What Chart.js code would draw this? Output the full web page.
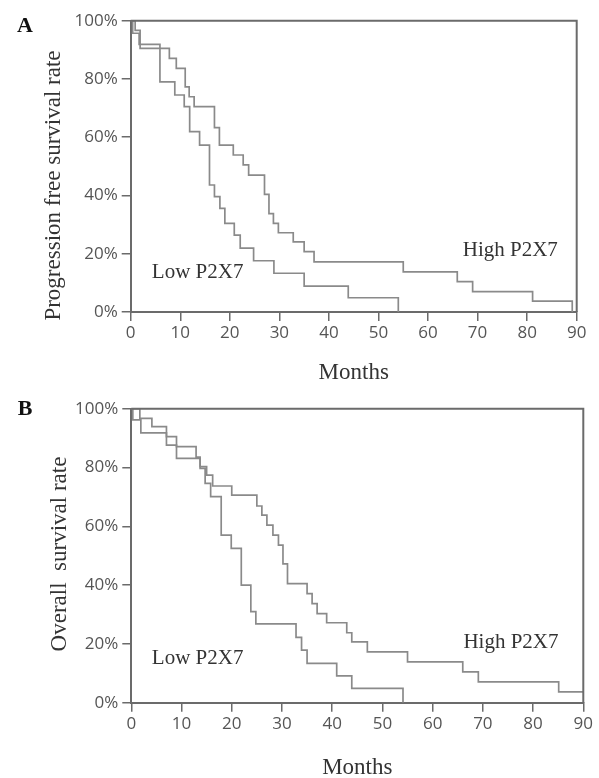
<!DOCTYPE html>
<html>
<head>
<meta charset="utf-8">
<script src="https://cdn.jsdelivr.net/npm/chart.js@4.4.1/dist/chart.umd.min.js"></script>
<style>
  html, body { margin: 0; padding: 0; background: #fff; overflow: hidden; }
  #wrap { position: relative; width: 599px; height: 778px; }
  canvas { position: absolute; left: 0; }
  #chartA { top: 0; }
  #chartB { top: 390px; }
</style>
</head>
<body>
<div id="wrap">
  <canvas id="chartA" width="599" height="390"></canvas>
  <canvas id="chartB" width="599" height="392"></canvas>
</div>
<script>
// months / survival (%)
const monthTicks = [0, 10, 20, 30, 40, 50, 60, 70, 80, 90];
const rateTicks = [0, 20, 40, 60, 80, 100];

// A: progression free survival
const pfsHighMonths = [0, 0.9, 1.9, 7.8, 9.2, 11.0, 11.8, 12.8, 16.9, 17.9, 20.7, 22.7, 23.8, 27.0, 27.9, 28.8, 29.8, 32.8, 35.0, 37.0, 55.0, 65.9, 69.0, 81.1, 89.1];
const pfsHighRate = [100, 96.7, 90.5, 87.1, 83.6, 77.3, 73.9, 70.5, 63.3, 57.3, 53.9, 50.5, 47.0, 40.4, 33.8, 30.4, 27.2, 24.1, 20.7, 17.2, 13.8, 10.4, 7.0, 3.7, 0];
const pfsLowMonths = [0, 0.4, 1.7, 5.9, 8.9, 10.8, 11.9, 13.9, 15.9, 16.9, 18.0, 19.0, 20.9, 22.1, 24.8, 28.9, 35.0, 43.9, 54.0];
const pfsLowRate = [100, 95.7, 91.9, 79.0, 74.5, 70.5, 61.9, 57.3, 43.6, 39.6, 35.6, 30.4, 26.4, 21.9, 17.6, 13.3, 8.9, 4.9, 0];

// B: overall survival
const osHighMonths = [0, 1.7, 4.1, 7.0, 9.0, 12.9, 13.7, 15.0, 16.2, 20.0, 25.0, 26.0, 27.0, 28.2, 29.3, 30.2, 31.1, 35.0, 36.0, 37.0, 38.9, 42.9, 43.9, 47.0, 55.0, 66.0, 69.1, 85.1, 90];
const osHighRate = [100, 96.7, 93.9, 90.5, 87.1, 83.5, 80.3, 77.4, 73.7, 70.6, 66.9, 63.8, 60.4, 57.0, 53.6, 47.2, 40.5, 37.1, 33.7, 30.3, 27.2, 23.8, 20.7, 17.3, 13.9, 10.5, 7.1, 3.7, 3.7];
const osLowMonths = [0, 0.3, 1.9, 7.0, 9.0, 13.7, 14.7, 15.8, 17.9, 19.9, 21.9, 23.8, 24.8, 32.8, 33.9, 35.0, 40.9, 43.9, 54.1];
const osLowRate = [100, 96.2, 91.8, 87.6, 83.1, 79.7, 74.6, 70.1, 57.0, 52.5, 40.0, 31.0, 26.8, 22.2, 17.9, 13.4, 9.1, 4.9, 0];

const lineGrey = "#8a8a8a";
const axisGrey = "#6b6b6b";

function toPoints(months, rate) {
  return months.map((m, i) => ({ x: m, y: rate[i] }));
}

// frame on top/right, panel letter, rotated y title and the group names
const panelText = {
  id: "panelText",
  afterDraw(chart, args, opts) {
    const { ctx, chartArea: a, scales } = chart;
    ctx.save();
    ctx.strokeStyle = axisGrey;
    ctx.lineWidth = 2;
    ctx.beginPath();
    ctx.moveTo(a.left, a.top);
    ctx.lineTo(a.right, a.top);
    ctx.lineTo(a.right, a.bottom);
    ctx.stroke();

    ctx.fillStyle = "#111";
    ctx.font = 'bold 22px "Liberation Serif"';
    ctx.textAlign = "center";
    ctx.textBaseline = "alphabetic";
    ctx.fillText(opts.letter, 25, opts.letterY);

    ctx.save();
    ctx.translate(opts.titleX, opts.titleY);
    ctx.rotate(-Math.PI / 2);
    ctx.fillStyle = "#333";
    ctx.font = '23px "Liberation Serif"';
    ctx.textBaseline = "middle";
    ctx.fillText(opts.title, 0, 0);
    ctx.restore();

    ctx.fillStyle = "#333";
    ctx.font = '21px "Liberation Serif"';
    ctx.textBaseline = "middle";
    opts.notes.forEach((n) => {
      ctx.fillText(n.text, scales.x.getPixelForValue(n.x), scales.y.getPixelForValue(n.y));
    });
    ctx.restore();
  },
};

function makeChart(id, high, low, box, text) {
  const tickFont = { family: "Open Sans", size: 17 };
  return new Chart(document.getElementById(id), {
    type: "line",
    data: {
      datasets: [
        { label: "High P2X7", data: high, stepped: true, borderColor: lineGrey, borderWidth: 1.7, pointRadius: 0, fill: false },
        { label: "Low P2X7", data: low, stepped: true, borderColor: lineGrey, borderWidth: 1.7, pointRadius: 0, fill: false },
      ],
    },
    options: {
      responsive: false,
      animation: false,
      devicePixelRatio: 1,
      layout: { padding: { left: 0, top: box.top, right: box.right, bottom: 0 } },
      plugins: {
        legend: { display: false },
        tooltip: { enabled: false },
        panelText: text,
      },
      scales: {
        x: {
          type: "linear",
          min: 0,
          max: 90,
          afterBuildTicks: (s) => { s.ticks = monthTicks.map((v) => ({ value: v })); },
          afterFit: (s) => { s.height = box.xHeight; },
          ticks: { font: tickFont, color: "#555", padding: 2, maxRotation: 0 },
          grid: { drawOnChartArea: false, tickLength: 9, color: axisGrey, lineWidth: 1.5 },
          border: { color: axisGrey, width: 2 },
          title: {
            display: true,
            text: "Months",
            color: "#333",
            font: { family: "Liberation Serif", size: 23 },
            padding: { top: 0, bottom: box.titlePad },
          },
        },
        y: {
          min: 0,
          max: 100,
          afterBuildTicks: (s) => { s.ticks = rateTicks.map((v) => ({ value: v })); },
          afterFit: (s) => { s.width = box.yWidth; },
          ticks: { font: tickFont, color: "#555", padding: 4, callback: (v) => v + "%" },
          grid: { drawOnChartArea: false, tickLength: 9, color: axisGrey, lineWidth: 1.5 },
          border: { color: axisGrey, width: 2 },
        },
      },
    },
    plugins: [panelText],
  });
}

makeChart(
  "chartA",
  toPoints(pfsHighMonths, pfsHighRate),
  toPoints(pfsLowMonths, pfsLowRate),
  { top: 20.7, right: 22.3, yWidth: 130.7, xHeight: 78, titlePad: 3 },
  {
    letter: "A", letterY: 31.7,
    title: "Progression free survival rate", titleX: 54, titleY: 185.5,
    notes: [
      { text: "Low P2X7", x: 13.5, y: 13.4 },
      { text: "High P2X7", x: 76.6, y: 21.1 },
    ],
  }
);

makeChart(
  "chartB",
  toPoints(osHighMonths, osHighRate),
  toPoints(osLowMonths, osLowRate),
  { top: 18.7, right: 15.7, yWidth: 131.3, xHeight: 79.3, titlePad: 0 },
  {
    letter: "B", letterY: 25,
    title: "Overall  survival rate", titleX: 60, titleY: 164,
    notes: [
      { text: "Low P2X7", x: 13.2, y: 14.9 },
      { text: "High P2X7", x: 75.6, y: 20.5 },
    ],
  }
);
</script>
</body>
</html>
